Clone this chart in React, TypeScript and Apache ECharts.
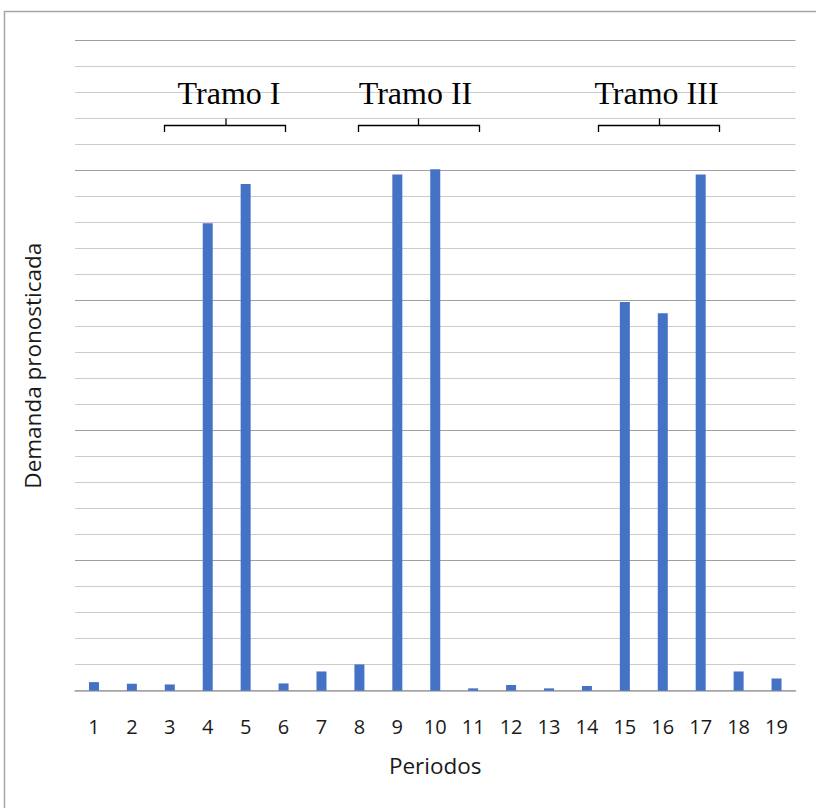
import React, { useEffect, useRef } from "react";
import * as echarts from "echarts";

const categories = ["1","2","3","4","5","6","7","8","9","10","11","12","13","14","15","16","17","18","19"];
const demanda = [0.33, 0.27, 0.24, 17.98, 19.49, 0.28, 0.74, 1.01, 19.85, 20.06, 0.09, 0.22, 0.09, 0.18, 14.95, 14.52, 19.85, 0.74, 0.47];
const tramoLabels = ["Tramo I", "Tramo II", "Tramo III"];
const xAxisName = "Periodos";
const yAxisName = "Demanda pronosticada";

// bracket geometry (pixel annotations): [left, mid, right]
const brackets = [
  [164.5, 226, 285.5],
  [358.5, 418.5, 479.5],
  [598.5, 659.5, 719.5],
];
const labelCenters = [229, 415.5, 656.5];

export default function App() {
  const ref = useRef<HTMLDivElement>(null);
  useEffect(() => {
    if (!ref.current) return;
    const chart = echarts.init(ref.current, undefined, { renderer: "svg" });
    const graphics: any[] = [
      {
        type: "rect",
        shape: { x: 4.5, y: 11.5, width: 900, height: 900 },
        style: { fill: "none", stroke: "#a6a6a6", lineWidth: 1.5 },
        z: 0,
      },
    ];
    brackets.forEach(([l, m, r], i) => {
      graphics.push({
        type: "polyline",
        shape: { points: [[l, 132], [l, 125.5], [r, 125.5], [r, 132]] },
        style: { stroke: "#000", lineWidth: 1.3, fill: "none" },
        z: 10,
      });
      graphics.push({
        type: "line",
        shape: { x1: m, y1: 125.5, x2: m, y2: 118.5 },
        style: { stroke: "#000", lineWidth: 1.3 },
        z: 10,
      });
      graphics.push({
        type: "text",
        x: labelCenters[i],
        y: 93,
        style: {
          text: tramoLabels[i],
          font: '32px "Liberation Serif", "Times New Roman", serif',
          fill: "#000",
          align: "center",
          verticalAlign: "middle",
        },
        z: 10,
      });
    });
    chart.setOption({
      animation: false,
      backgroundColor: "#fff",
      grid: { left: 75, right: 20.5, top: 40.7, bottom: 117.3, containLabel: false },
      xAxis: {
        type: "category",
        data: categories,
        name: xAxisName,
        nameLocation: "middle",
        nameGap: 63,
        nameTextStyle: { fontFamily: "Open Sans", fontSize: 22.5, color: "#1a1a1a" },
        axisLine: { show: true, lineStyle: { color: "#a6a6a6", width: 1.5 } },
        axisTick: { show: false },
        axisLabel: { fontFamily: "Open Sans", fontSize: 20, color: "#1a1a1a", margin: 26, interval: 0 },
      },
      yAxis: {
        type: "value",
        min: 0,
        max: 25,
        interval: 5,
        name: yAxisName,
        nameLocation: "middle",
        nameRotate: 90,
        nameGap: 31,
        nameTextStyle: { fontFamily: "Open Sans", fontSize: 22.5, color: "#1a1a1a" },
        axisLine: { show: false },
        axisTick: { show: false },
        axisLabel: { show: false },
        splitLine: { show: true, lineStyle: { color: "#a0a0a0", width: 1.2 } },
        minorTick: { show: false, splitNumber: 5 },
        minorSplitLine: { show: true, lineStyle: { color: "#cccccc", width: 1.2 } },
      },
      series: [
        {
          type: "bar",
          data: demanda,
          barWidth: 10,
          itemStyle: { color: "#4472C4" },
        },
      ],
      graphic: graphics,
    });
    return () => chart.dispose();
  }, []);
  return (
    <div
      ref={ref}
      style={{ position: "absolute", left: 0, top: 0, width: 816, height: 808 }}
    />
  );
}
